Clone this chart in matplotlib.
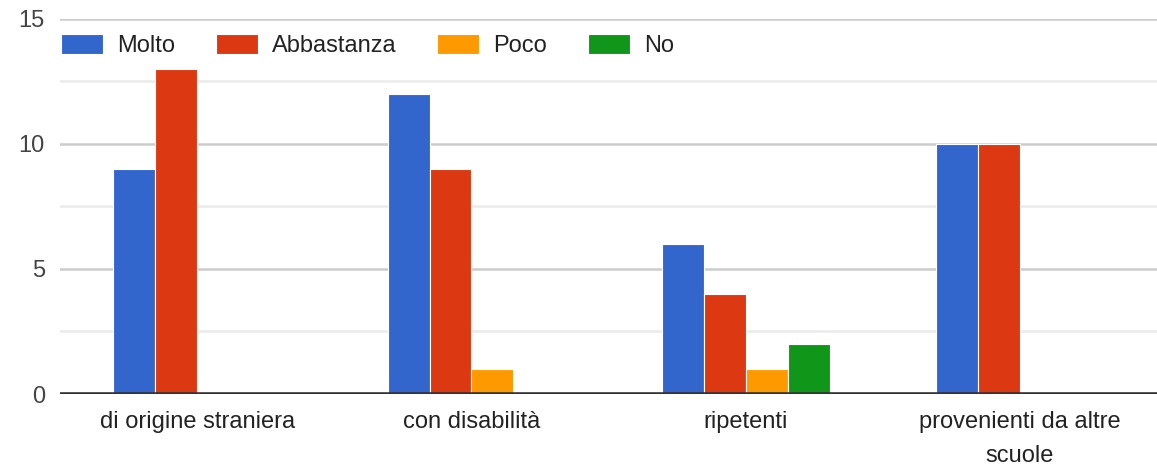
import numpy as np
import matplotlib.pyplot as plt
from matplotlib.ticker import MultipleLocator

# --- DATI ---
categorie = ['di origine straniera', 'con disabilità', 'ripetenti',
             'provenienti da altre\nscuole']
serie = ['Molto', 'Abbastanza', 'Poco', 'No']
molto = [9, 12, 6, 10]
abbastanza = [13, 9, 4, 10]
poco = [0, 1, 1, 0]
no = [0, 0, 2, 0]
colori = ['#3366cc', '#dc3912', '#ff9900', '#109618']

valori = [molto, abbastanza, poco, no]

plt.rcParams['font.family'] = ['Liberation Sans', 'DejaVu Sans']

fig = plt.figure(figsize=(11.57, 4.66), dpi=100)
ax = fig.add_axes([0.052, 0.1545, 0.948, 0.805])

x = np.arange(len(categorie))
w = 0.153
for i, (nome, vals) in enumerate(zip(serie, valori)):
    ax.bar(x + (i - 1.5) * w, vals, width=w, color=colori[i], label=nome,
           edgecolor='white', linewidth=0.8, zorder=3)

ax.set_xlim(-0.5, len(categorie) - 0.5)
ax.set_ylim(0, 15)
ax.yaxis.set_major_locator(MultipleLocator(5))
ax.yaxis.set_minor_locator(MultipleLocator(2.5))
ax.grid(axis='y', which='major', color='#cccccc', linewidth=1.8, zorder=0)
ax.grid(axis='y', which='minor', color='#ebebeb', linewidth=1.8, zorder=0)
ax.axhline(0, color='#333333', linewidth=2.6, zorder=4)

for s in ax.spines.values():
    s.set_visible(False)
ax.tick_params(axis='both', which='both', length=0)
ax.tick_params(axis='y', pad=11, labelsize=17, labelcolor='#444444')
ax.tick_params(axis='x', pad=12, labelsize=17, labelcolor='#222222')
ax.set_xticks(x)
ax.set_xticklabels(categorie, linespacing=1.7)

ax.legend(loc='upper left', bbox_to_anchor=(-0.008, 0.985), ncol=4, frameon=False,
          fontsize=17, handlelength=1.78, handleheight=0.95, handletextpad=0.6,
          columnspacing=1.72, labelcolor='#222222', borderaxespad=0)

fig.savefig('out.png', dpi=100)
